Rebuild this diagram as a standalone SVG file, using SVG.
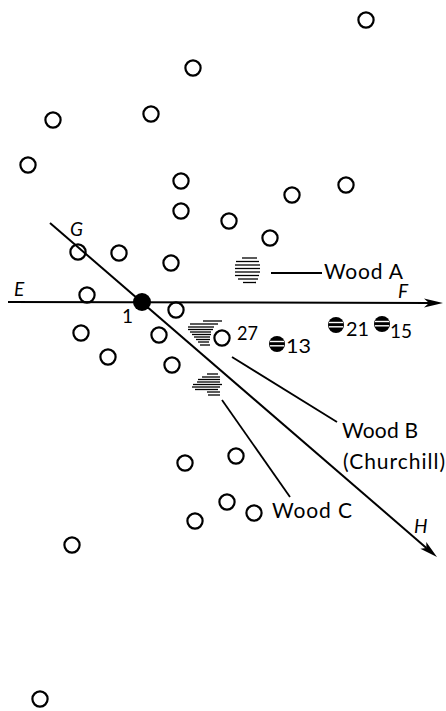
<svg xmlns="http://www.w3.org/2000/svg" width="446" height="711" viewBox="0 0 446 711">
<style>
.o{fill:none;stroke:#000;stroke-width:2.2}
.ln{stroke:#000;stroke-width:2;fill:none}
.ld{stroke:#000;stroke-width:1.8;fill:none}
.h{stroke:#000;stroke-width:1.3}
.w{stroke:#fff;stroke-width:1.4}
.lab{font-family:"Lato","Open Sans","Liberation Sans",sans-serif;font-size:21px;fill:#000}
.num{font-family:"Lato","Open Sans","Liberation Sans",sans-serif;font-size:19px;fill:#000}
.it{font-family:"Lato","Open Sans","Liberation Sans",sans-serif;font-size:19px;font-style:italic;fill:#000}
</style>
<defs>
<circle id="c" r="7.6" class="o"/>
<g id="hc"><circle r="8" fill="#000"/><line x1="-7" y1="-2.5" x2="7" y2="-2.5" class="w"/><line x1="-7" y1="1.8" x2="7" y2="1.8" class="w"/></g>
</defs>
<rect width="446" height="711" fill="#fff"/>

<g id="connectors">
<line x1="8" y1="302" x2="430" y2="303" class="ln"/>
<path d="M443,303 L424,298.5 L429,303 L424,307.5 Z" fill="#000"/>
<line x1="50" y1="223" x2="426.4" y2="547.9" class="ln"/>
<path d="M437,557 L420.4,548.7 L426.4,547.9 L426.3,541.9 Z" fill="#000"/>
<line x1="271" y1="273" x2="322" y2="273" class="ld"/>
<line x1="232" y1="357" x2="337" y2="422" class="ld"/>
<line x1="222" y1="400" x2="290" y2="497" class="ld"/>
</g>

<g id="trees">
<use href="#c" x="366" y="20"/>
<use href="#c" x="193" y="68"/>
<use href="#c" x="53" y="120"/>
<use href="#c" x="151" y="114"/>
<use href="#c" x="28" y="165"/>
<use href="#c" x="181" y="181"/>
<use href="#c" x="346" y="185"/>
<use href="#c" x="292" y="195"/>
<use href="#c" x="181" y="211"/>
<use href="#c" x="229" y="221"/>
<use href="#c" x="270" y="238"/>
<use href="#c" x="78" y="252"/>
<use href="#c" x="119" y="253"/>
<use href="#c" x="171" y="263"/>
<use href="#c" x="87" y="295"/>
<use href="#c" x="176" y="310"/>
<use href="#c" x="81" y="333"/>
<use href="#c" x="159" y="335"/>
<use href="#c" x="108" y="357"/>
<use href="#c" x="172" y="365"/>
<use href="#c" x="222" y="338"/>
<use href="#c" x="185" y="463"/>
<use href="#c" x="236" y="456"/>
<use href="#c" x="227" y="502"/>
<use href="#c" x="254" y="513"/>
<use href="#c" x="195" y="521"/>
<use href="#c" x="72" y="545"/>
<use href="#c" x="40" y="699"/>
</g>

<g id="point1">
<circle cx="142" cy="302" r="9" fill="#000"/>
<text x="122" y="323" class="num">1</text>
</g>

<g id="hatched-trees">
<use href="#hc" x="277" y="344"/>
<text x="286" y="353" class="num" textLength="25" lengthAdjust="spacingAndGlyphs">13</text>
<use href="#hc" x="336" y="325"/>
<text x="346" y="336" class="num" textLength="23" lengthAdjust="spacingAndGlyphs">21</text>
<use href="#hc" x="382" y="324"/>
<text x="390" y="338" class="num" textLength="22" lengthAdjust="spacingAndGlyphs">15</text>
<text x="237" y="340" class="num" textLength="21" lengthAdjust="spacingAndGlyphs">27</text>
</g>

<g id="wood-a">
<line x1="242" y1="258" x2="257" y2="258" class="h"/>
<line x1="236" y1="261.5" x2="259" y2="261.5" class="h"/>
<line x1="235" y1="265" x2="260" y2="265" class="h"/>
<line x1="235" y1="268.5" x2="260" y2="268.5" class="h"/>
<line x1="235" y1="272" x2="260" y2="272" class="h"/>
<line x1="235" y1="275.5" x2="259" y2="275.5" class="h"/>
<line x1="238" y1="279" x2="258" y2="279" class="h"/>
<line x1="243" y1="282.5" x2="256" y2="282.5" class="h"/>
<text x="324" y="279" class="lab" textLength="79" lengthAdjust="spacing">Wood A</text>
</g>

<g id="wood-b">
<line x1="203" y1="321" x2="222" y2="321" class="h"/>
<line x1="190" y1="324" x2="218" y2="324" class="h"/>
<line x1="188" y1="327" x2="214" y2="327" class="h"/>
<line x1="188" y1="329.5" x2="213" y2="329.5" class="h"/>
<line x1="190" y1="332" x2="211" y2="332" class="h"/>
<line x1="192" y1="334.5" x2="211" y2="334.5" class="h"/>
<line x1="194" y1="337" x2="210" y2="337" class="h"/>
<line x1="196" y1="339.5" x2="210" y2="339.5" class="h"/>
<line x1="198" y1="342" x2="209" y2="342" class="h"/>
<line x1="200" y1="345" x2="210" y2="345" class="h"/>
<text x="342" y="438" class="lab" textLength="76" lengthAdjust="spacing">Wood B</text>
<text x="343" y="469" class="lab" textLength="102" lengthAdjust="spacing">(Churchill)</text>
</g>

<g id="wood-c">
<line x1="207" y1="374" x2="218" y2="374" class="h"/>
<line x1="202" y1="377" x2="220" y2="377" class="h"/>
<line x1="198" y1="379.5" x2="220" y2="379.5" class="h"/>
<line x1="197" y1="382" x2="220" y2="382" class="h"/>
<line x1="193" y1="384.5" x2="222" y2="384.5" class="h"/>
<line x1="192" y1="387" x2="220" y2="387" class="h"/>
<line x1="195" y1="389.5" x2="218" y2="389.5" class="h"/>
<line x1="207" y1="392" x2="220" y2="392" class="h"/>
<line x1="208" y1="395" x2="220" y2="395" class="h"/>
<text x="272" y="518" class="lab" textLength="80" lengthAdjust="spacing">Wood C</text>
</g>

<g id="labels">
<text x="14" y="296" class="it">E</text>
<text x="398" y="298" class="it">F</text>
<text x="70" y="236" class="it">G</text>
<text x="414" y="533" class="it">H</text>
</g>
</svg>
